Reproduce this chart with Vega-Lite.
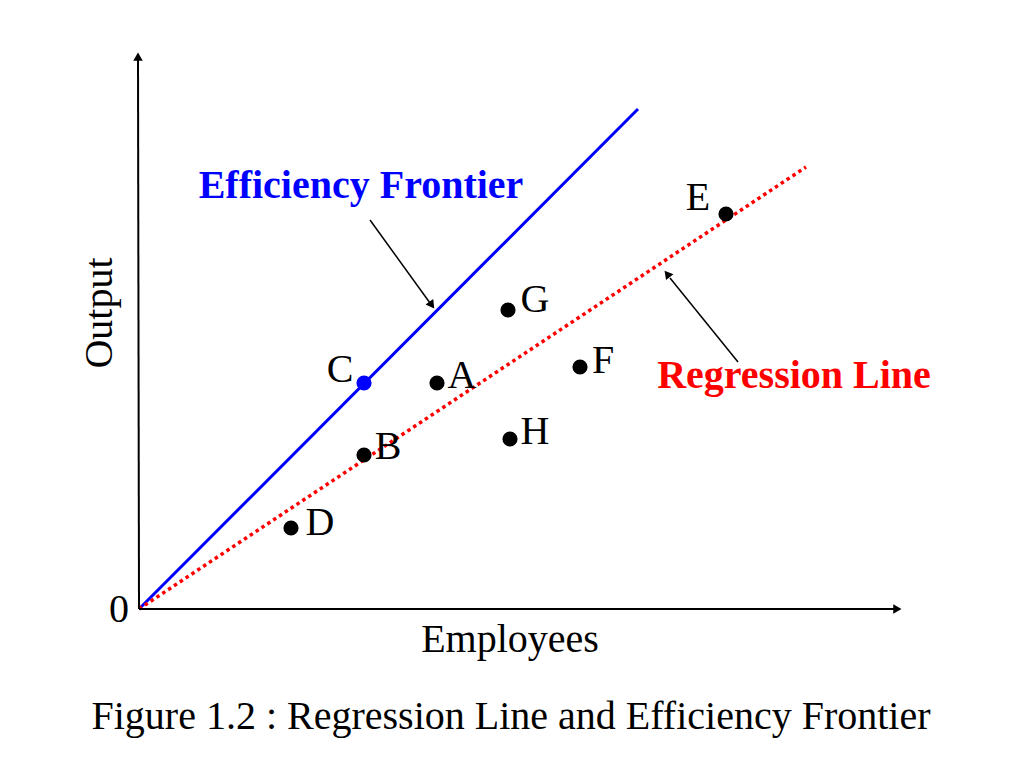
{
  "$schema": "https://vega.github.io/schema/vega-lite/v6.json",
  "width": 1024,
  "height": 768,
  "autosize": {"type": "fit", "contains": "padding"},
  "padding": 0,
  "background": "white",
  "config": {"view": {"stroke": null}},
  "datasets": {
    "lines": [
      {"id": "yaxis", "x": 0, "y": 0, "x2": -1, "y2": 550, "c": "black", "w": 2},
      {"id": "xaxis", "x": 0, "y": 0, "x2": 758, "y2": 0, "c": "black", "w": 2},
      {"id": "effarrow", "x": 231, "y": 389, "x2": 291, "y2": 306, "c": "black", "w": 1.5},
      {"id": "regarrow", "x": 599, "y": 247, "x2": 531, "y2": 331, "c": "black", "w": 1.5}
    ],
    "heads": [
      {"x": -1, "y": 551, "ang": 0},
      {"x": 757, "y": 0, "ang": 90},
      {"x": 292, "y": 305, "ang": 144},
      {"x": 529, "y": 334, "ang": 321}
    ],
    "frontier": [{"x": 0, "y": 0, "x2": 499, "y2": 500}],
    "regression": [{"x": 0, "y": 0, "x2": 667, "y2": 442}],
    "points": [
      {"name": "C", "x": 225, "y": 226, "c": "#0000ff"},
      {"name": "A", "x": 298, "y": 226, "c": "black"},
      {"name": "G", "x": 369, "y": 299, "c": "black"},
      {"name": "F", "x": 441, "y": 242, "c": "black"},
      {"name": "E", "x": 587, "y": 395, "c": "black"},
      {"name": "B", "x": 225, "y": 154, "c": "black"},
      {"name": "H", "x": 371, "y": 170, "c": "black"},
      {"name": "D", "x": 152, "y": 81, "c": "black"}
    ],
    "labels": [
      {"t": "C", "x": 201, "y": 239},
      {"t": "A", "x": 323, "y": 233},
      {"t": "G", "x": 396, "y": 309},
      {"t": "F", "x": 464, "y": 248},
      {"t": "E", "x": 559, "y": 411},
      {"t": "B", "x": 249, "y": 162},
      {"t": "H", "x": 396, "y": 177},
      {"t": "D", "x": 181, "y": 86},
      {"t": "0", "x": -20, "y": -1},
      {"t": "Employees", "x": 371, "y": -31},
      {"t": "Figure 1.2 : Regression Line and Efficiency Frontier", "x": 372, "y": -108}
    ],
    "titles": [
      {"t": "Efficiency Frontier", "x": 222, "y": 423, "c": "#0000ff"},
      {"t": "Regression Line", "x": 655, "y": 233, "c": "#ff0000"}
    ],
    "ylab": [{"t": "Output", "x": -39, "y": 296}]
  },
  "encoding": {
    "x": {"field": "x", "type": "quantitative", "scale": {"domain": [-139, 885], "nice": false, "zero": false}, "axis": null},
    "y": {"field": "y", "type": "quantitative", "scale": {"domain": [-159, 609], "nice": false, "zero": false}, "axis": null}
  },
  "layer": [
    {
      "data": {"name": "frontier"},
      "mark": {"type": "rule", "color": "#0000ff", "strokeWidth": 3},
      "encoding": {"x2": {"field": "x2"}, "y2": {"field": "y2"}}
    },
    {
      "data": {"name": "regression"},
      "mark": {"type": "rule", "color": "#ff0000", "strokeWidth": 3.5, "strokeDash": [3.5, 3.5]},
      "encoding": {"x2": {"field": "x2"}, "y2": {"field": "y2"}}
    },
    {
      "data": {"name": "lines"},
      "mark": {"type": "rule"},
      "encoding": {
        "x2": {"field": "x2"},
        "y2": {"field": "y2"},
        "color": {"field": "c", "type": "nominal", "scale": null},
        "strokeWidth": {"field": "w", "type": "quantitative", "scale": null}
      }
    },
    {
      "data": {"name": "heads"},
      "mark": {"type": "point", "shape": "triangle", "filled": true, "color": "black", "size": 90, "opacity": 1},
      "encoding": {"angle": {"field": "ang", "type": "quantitative", "scale": null}}
    },
    {
      "data": {"name": "points"},
      "mark": {"type": "circle", "size": 230, "opacity": 1},
      "encoding": {"color": {"field": "c", "type": "nominal", "scale": null}}
    },
    {
      "data": {"name": "labels"},
      "mark": {"type": "text", "font": "Liberation Serif", "fontSize": 40, "color": "black", "align": "center", "baseline": "middle"},
      "encoding": {"text": {"field": "t"}}
    },
    {
      "data": {"name": "titles"},
      "mark": {"type": "text", "font": "Liberation Serif", "fontSize": 40, "fontWeight": "bold", "align": "center", "baseline": "middle"},
      "encoding": {"text": {"field": "t"}, "color": {"field": "c", "type": "nominal", "scale": null}}
    },
    {
      "data": {"name": "ylab"},
      "mark": {"type": "text", "font": "Liberation Serif", "fontSize": 40, "color": "black", "align": "center", "baseline": "middle", "angle": 270},
      "encoding": {"text": {"field": "t"}}
    }
  ]
}
